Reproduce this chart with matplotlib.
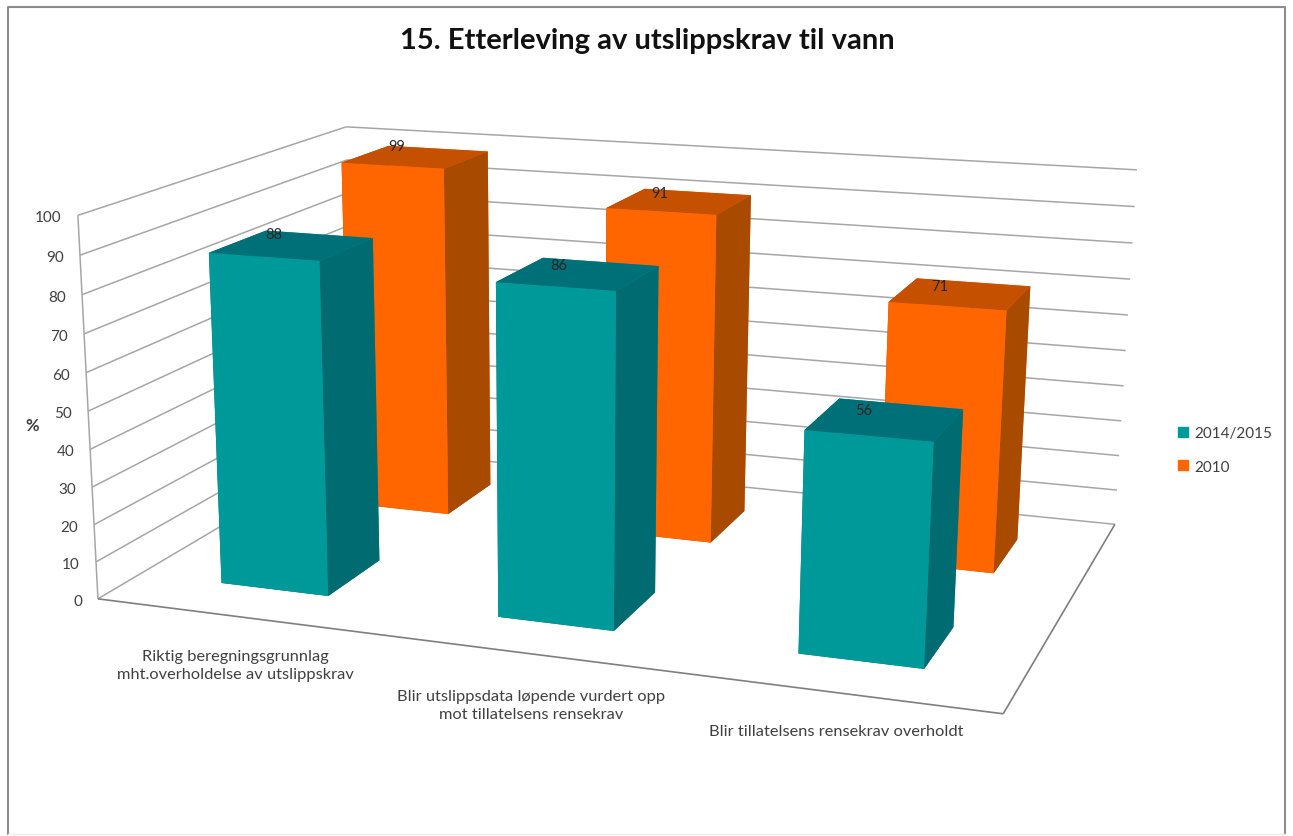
import numpy as np
import matplotlib
matplotlib.use("Agg")
import matplotlib.pyplot as plt
from matplotlib.lines import Line2D
from matplotlib.patches import Patch
from mpl_toolkits.mplot3d import Axes3D  # noqa: F401
from mpl_toolkits.mplot3d.art3d import Line3DCollection

# ---------- data ----------
categories = ["Riktig beregningsgrunnlag\nmht.overholdelse av utslippskrav",
              "Blir utslippsdata løpende vurdert opp\nmot tillatelsens rensekrav",
              "Blir tillatelsens rensekrav overholdt"]
series_names = ["2014/2015", "2010"]
values_2014 = [88, 86, 56]
values_2010 = [99, 91, 71]
yticks = list(range(0, 101, 10))

# ---------- style ----------
W, H = 1293, 837
TEAL = ("#009999", "#006B70", "#007078")   # front, side, top
ORANGE = ("#FF6600", "#A84A00", "#C45000")
GRID = "#A6A6A6"
TEXT = "#404040"
plt.rcParams["font.family"] = ["Lato", "DejaVu Sans"]

BAR_X0 = 0.305     # left edge of bar inside a category
BAR_W = 0.395
BAR_Y0 = 0.29      # front edge of bar inside a series slot
BAR_D = 0.41

# scene camera: frame corners of the 3D chart box -> reference pixels
frame_world = np.array([[0, 0, 0], [3, 0, 0], [3, 2, 0],
                        [0, 0, 100], [0, 2, 100], [3, 2, 100]], float)
frame_px = np.array([[98, 600], [1003, 715], [1115, 525],
                     [78, 216], [346, 128], [1137, 171]], float)


def solve_camera(w, p):
    rows = []
    for (x, y, z), (u, v) in zip(w, p):
        X = [x, y, z, 1]
        rows.append(X + [0, 0, 0, 0] + [-u * a for a in X])
        rows.append([0, 0, 0, 0] + X + [-v * a for a in X])
    s = np.linalg.svd(np.array(rows))[2][-1].reshape(3, 4)
    if s[2] @ [1.5, 1, 50, 1] < 0:
        s = -s
    return s / (s[2] @ [1.5, 1, 50, 1])


CAM = solve_camera(frame_world, frame_px)


def to_px(x, y, z):
    u, v, w_ = CAM @ [x, y, z, 1]
    return u / w_, v / w_


def fig_text(px, py, s, **kw):
    return fig.text(px / W, 1 - py / H, s, **kw)


fig = plt.figure(figsize=(W / 100, H / 100), dpi=100, facecolor="white")
ax = fig.add_axes([0, 0, 1, 1], projection="3d", computed_zorder=False)
ax.set_axis_off()
ax.patch.set_alpha(0)
ax.set_xlim(0, 3)
ax.set_ylim(0, 2)
ax.set_zlim(0, 100)
ax.apply_aspect = lambda position=None: None


def calibrated_proj():
    inv = ax.transData.inverted().get_matrix()
    to_disp = np.array([[1, 0, 0], [0, -1, H], [0, 0, 1]], float)
    P = inv @ to_disp @ CAM
    depth = P[2] - np.array([0, 0, 0, 0.5])
    return np.vstack([P[0], P[1], depth, P[2]])


ax.get_proj = calibrated_proj


# walls, floor and gridlines
def lines3d(segments, color=GRID, lw=1.1, zorder=1):
    ax.add_collection3d(Line3DCollection(segments, colors=color, linewidths=lw, zorder=zorder))


grid_segments = []
for t in yticks:
    grid_segments.append([(0, 0, t), (0, 2, t)])
    grid_segments.append([(0, 2, t), (3, 2, t)])
grid_segments.append([(0, 0, 0), (0, 0, 100)])
lines3d(grid_segments)
lines3d([[(0, 0, 0), (3, 0, 0)], [(3, 0, 0), (3, 2, 0)]], color="#7F7F7F", lw=1.2, zorder=1.1)


# bars, back row first
def bar(cat, slot, value, colors, zorder, label_dy, dx=0.0):
    x = cat + BAR_X0 + dx
    y = slot + BAR_Y0
    # face order of bar3d: -z, +z, -y, +y, -x, +x
    facecolors = [colors[2], colors[2], colors[0], colors[0], colors[1], colors[1]]
    ax.bar3d(x, y, 0, BAR_W, BAR_D, value, color=facecolors, shade=False,
             edgecolor="none", zorder=zorder)
    px, py = to_px(x + 0.03 + 0.025 * cat, y + BAR_D, value)
    fig_text(px, py + label_dy + 3 * cat, str(value), ha="center", va="center",
             fontsize=10.5, color="#262626")


for i, v in enumerate(values_2010):
    bar(i, 1, v, ORANGE, 3 + i * 0.1, 0, dx=0.008)
for i, v in enumerate(values_2014):
    bar(i, 0, v, TEAL, 5 + i * 0.1, 3)

# value axis labels (placed left of the front wall edge)
for t in yticks:
    px, py = to_px(0, 0, t)
    fig_text(px - 16, py + 2, str(t), ha="right", va="center", fontsize=11, color=TEXT)
fig_text(32, 426, "%", ha="center", va="center", fontsize=12, color=TEXT, fontweight="bold")

# category labels
label_pos = [(235, 666), (531, 706), (836, 732)]
for (px, py), name in zip(label_pos, categories):
    fig_text(px, py, name, ha="center", va="center", fontsize=11.8, color=TEXT, linespacing=1.42)

fig_text(647, 41, "15. Etterleving av utslippskrav til vann", ha="center",
         va="center", fontsize=21, fontweight="bold", color="#111111")

handles = [Patch(color=TEAL[0], label=series_names[0]), Patch(color=ORANGE[0], label=series_names[1])]
fig.legend(handles=handles, loc="center left", bbox_to_anchor=(1178 / W, 1 - 451 / H),
           frameon=False, fontsize=11, labelcolor=TEXT, handlelength=0.65, handleheight=0.65,
           handletextpad=0.4, labelspacing=1.25, borderpad=0, borderaxespad=0)

# chart border: grey on three sides, barely visible at the bottom
x0, x1, y0, y1 = 8 / W, 1285 / W, 1 - 8 / H, 1 - 835 / H
fig.add_artist(Line2D([x0, x0, x1, x1], [y1, y0, y0, y1], transform=fig.transFigure,
                      color="#8C8C8C", lw=1.5))
fig.add_artist(Line2D([x0, x1], [y1, y1], transform=fig.transFigure, color="#EDEDED", lw=1))

fig.savefig("out.png", dpi=100)
